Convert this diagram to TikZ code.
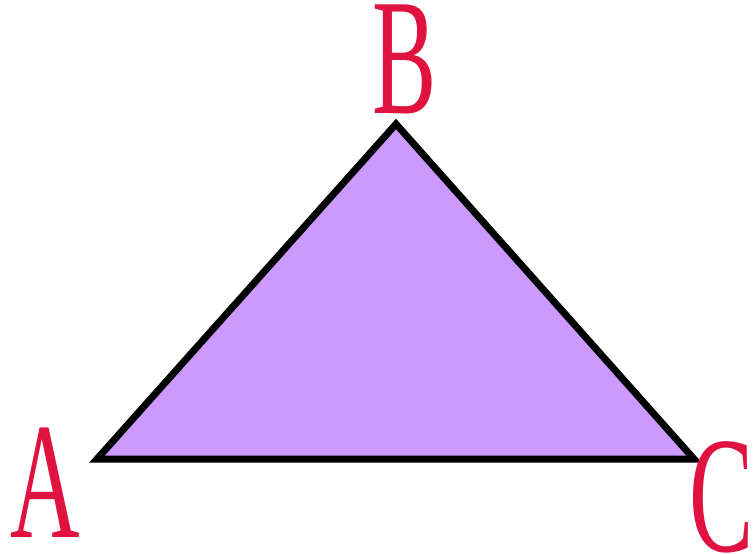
\documentclass[tikz,border=0pt]{standalone}
\usepackage{fontspec}
\setmainfont{Liberation Serif}
\definecolor{lbl}{HTML}{E0123F}
\definecolor{tri}{HTML}{CC99FF}
\tikzset{
  vlabel/.style={inner sep=0pt, anchor=base, text=lbl,
    font=\fontsize{166}{166}\selectfont, xscale=0.58},
  triedge/.style={draw=black, line width=7pt, line join=miter, fill=tri}
}
\begin{document}
\begin{tikzpicture}[x=1pt,y=-1pt]
\useasboundingbox (0,0) rectangle (753,554);
\coordinate (pA) at (97,459);
\coordinate (pB) at (396,124);
\coordinate (pC) at (694,459);
\path[triedge] (pA) -- (pB) -- (pC) -- cycle;
\node[vlabel] (lA) at (45,537) {A};
\node[vlabel] (lB) at (405,113) {B};
\node[vlabel] (lC) at (722,551) {C};
\end{tikzpicture}
\end{document}
